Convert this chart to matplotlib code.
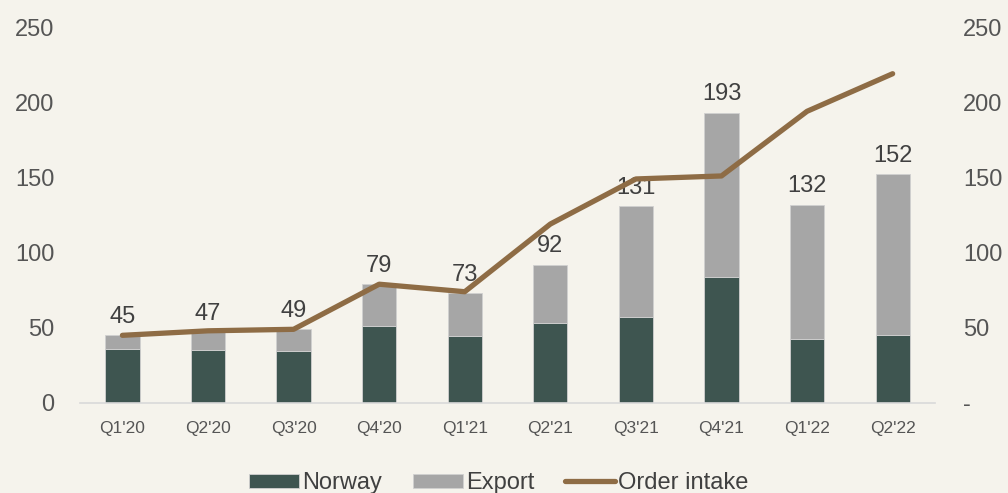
import matplotlib.pyplot as plt
import numpy as np

quarters = ["Q1'20", "Q2'20", "Q3'20", "Q4'20", "Q1'21", "Q2'21", "Q3'21", "Q4'21", "Q1'22", "Q2'22"]
totals = [45, 47, 49, 79, 73, 92, 131, 193, 132, 152]
norway = [36, 35, 34.5, 51, 44.5, 53, 57, 84, 42.5, 45]
export = [t - n for t, n in zip(totals, norway)]
order_intake = [45, 48, 49, 79, 74, 119, 149, 151, 194, 219]

bg = "#f5f3ec"
green = "#3e5550"
grey = "#a6a6a6"
brown = "#8e6c45"
txt = "#404040"

plt.rcParams["font.family"] = ["Liberation Sans", "DejaVu Sans"]

fig = plt.figure(figsize=(10.08, 4.93), dpi=100, facecolor=bg)
ax = fig.add_axes([0.079, 0.1826, 0.849, 0.7624], facecolor=bg)
x = np.arange(len(quarters))

ax.bar(x, norway, width=0.4, color=green, label="Norway", edgecolor="#d0d0d0", linewidth=0.6)
ax.bar(x, export, width=0.4, bottom=norway, color=grey, label="Export", edgecolor="#d0d0d0", linewidth=0.6)
for xi, t in zip(x, totals):
    ax.text(xi, t + 5, str(t), ha="center", va="bottom", fontsize=17, color=txt)

ax.set_xlim(-0.5, 9.5)
ax.set_ylim(0, 250)
ax.set_yticks(range(0, 251, 50))
ax.set_xticks(x)
ax.set_xticklabels(quarters)
ax.tick_params(axis="y", length=0, pad=18, labelsize=17, labelcolor="#555555")
ax.tick_params(axis="x", length=0, pad=13, labelsize=12.5, labelcolor="#555555")
for s in ["top", "left", "right"]:
    ax.spines[s].set_visible(False)
ax.spines["bottom"].set_color("#d9d9d9")
ax.spines["bottom"].set_linewidth(1.2)

ax2 = ax.twinx()
ax2.plot(x, order_intake, color=brown, lw=3.8, solid_capstyle="round", label="Order intake")
ax2.set_ylim(0, 250)
ax2.set_yticks(range(0, 251, 50))
ax2.set_yticklabels(["-"] + [str(v) for v in range(50, 251, 50)])
ax2.tick_params(axis="y", length=0, pad=20, labelsize=17, labelcolor="#555555")
for s in ["top", "left", "right", "bottom"]:
    ax2.spines[s].set_visible(False)

h1, l1 = ax.get_legend_handles_labels()
h2, l2 = ax2.get_legend_handles_labels()
fig.legend(h1 + h2, l1 + l2, loc="center", bbox_to_anchor=(0.495, 0.02), ncol=3,
           frameon=False, fontsize=17, labelcolor=txt, handlelength=2.1,
           handleheight=0.55, handletextpad=0.15, columnspacing=1.3)

fig.savefig("out.png", dpi=100, facecolor=bg)
